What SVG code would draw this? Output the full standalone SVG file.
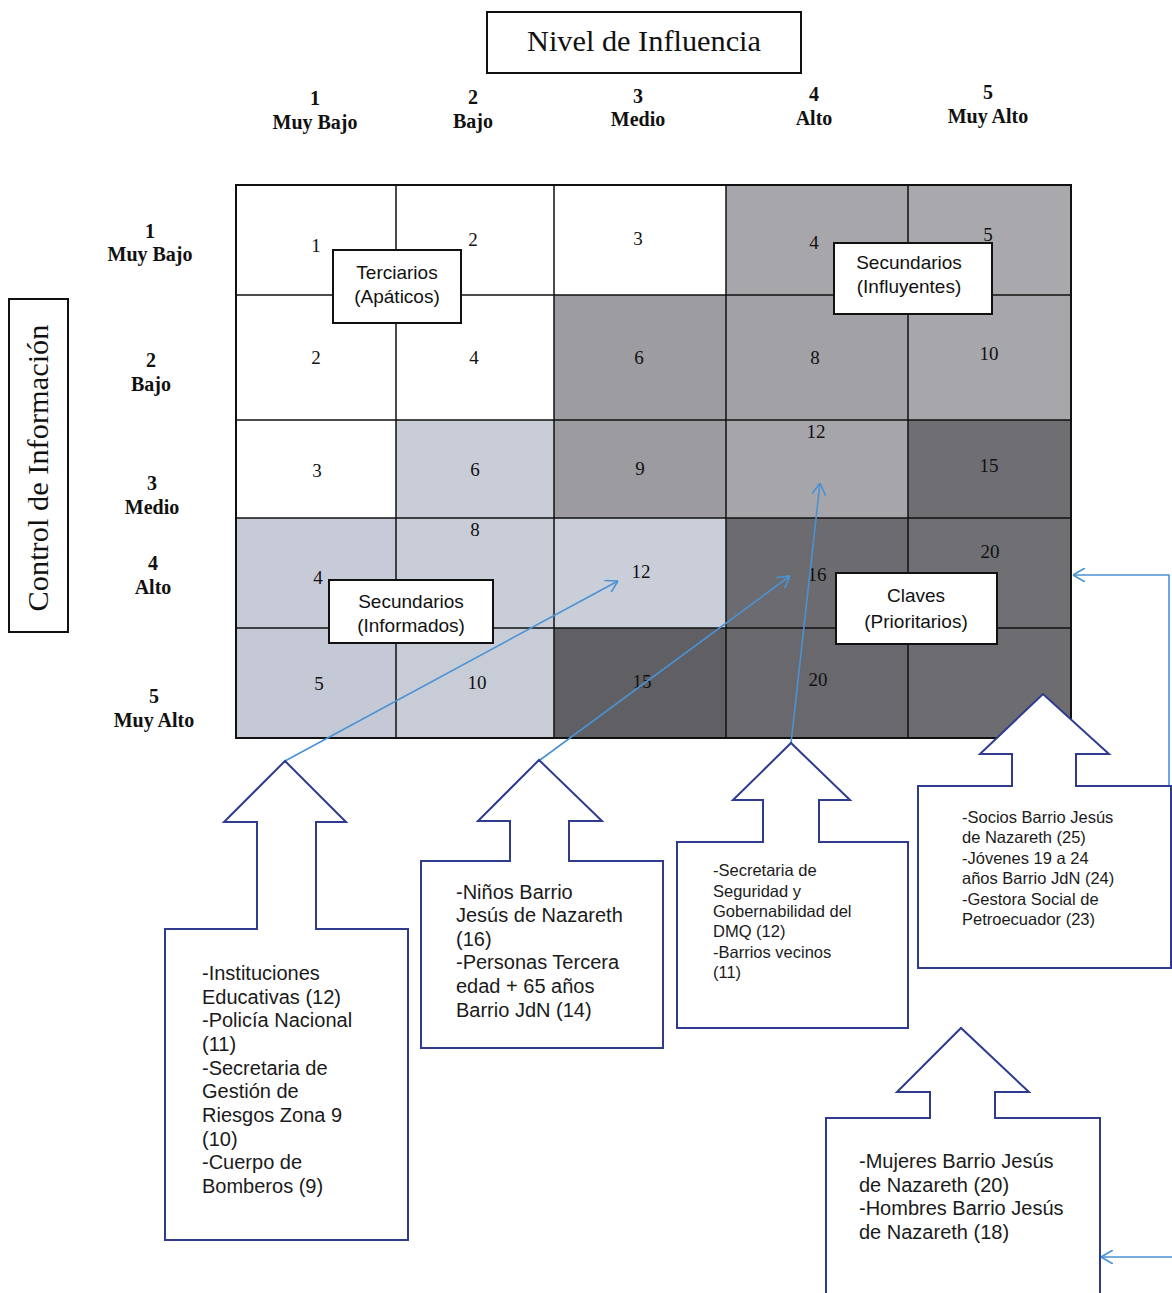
<svg xmlns="http://www.w3.org/2000/svg" width="1172" height="1293" viewBox="0 0 1172 1293">
<defs>
<style>
.hdr{font-family:"Liberation Serif",serif;font-weight:bold;font-size:20px;text-anchor:middle;fill:#111}
.num{font-family:"Liberation Serif",serif;font-size:19px;text-anchor:middle;fill:#111}
.lbl{font-family:"Liberation Sans",Arial,sans-serif;font-size:19px;text-anchor:middle;fill:#111}
.lbox{fill:#fff;stroke:#111;stroke-width:2}
.grid line{stroke:#111;stroke-width:1.5}
.abox{fill:#fff;stroke:#2e3b8f;stroke-width:2}
.t20{font-family:"Liberation Sans",Arial,sans-serif;font-size:20px;fill:#1a1a1a}
.t16{font-family:"Liberation Sans",Arial,sans-serif;font-size:16.5px;fill:#1a1a1a}
.conn{stroke:#4a92d4;stroke-width:1.6;fill:none}
</style>
<marker id="ah" viewBox="0 0 12 14" refX="12" refY="7" markerWidth="12" markerHeight="14" markerUnits="userSpaceOnUse" orient="auto">
<path d="M0,0 L12,7 L0,14" fill="none" stroke="#4a92d4" stroke-width="1.6"/>
</marker>
</defs>
<rect width="1172" height="1293" fill="#fff"/>

<g id="title">
<rect x="487" y="12" width="314" height="61" class="lbox"/>
<text x="644" y="51" font-family="Liberation Serif,serif" font-size="30" text-anchor="middle" fill="#111" textLength="234" lengthAdjust="spacingAndGlyphs">Nivel de Influencia</text>
</g>
<g id="yaxis-title">
<rect x="9" y="299" width="59" height="333" class="lbox"/>
<text transform="translate(48,468) rotate(-90)" font-family="Liberation Serif,serif" font-size="30" text-anchor="middle" fill="#111" textLength="287" lengthAdjust="spacingAndGlyphs">Control de Información</text>
</g>

<g id="col-headers">
<text class="hdr" x="315" y="105">1</text><text class="hdr" x="315" y="129">Muy Bajo</text>
<text class="hdr" x="473" y="104">2</text><text class="hdr" x="473" y="128">Bajo</text>
<text class="hdr" x="638" y="103">3</text><text class="hdr" x="638" y="126">Medio</text>
<text class="hdr" x="814" y="101">4</text><text class="hdr" x="814" y="125">Alto</text>
<text class="hdr" x="988" y="99">5</text><text class="hdr" x="988" y="123">Muy Alto</text>
</g>
<g id="row-headers">
<text class="hdr" x="150" y="238">1</text><text class="hdr" x="150" y="261">Muy Bajo</text>
<text class="hdr" x="151" y="367">2</text><text class="hdr" x="151" y="391">Bajo</text>
<text class="hdr" x="152" y="490">3</text><text class="hdr" x="152" y="514">Medio</text>
<text class="hdr" x="153" y="570">4</text><text class="hdr" x="153" y="594">Alto</text>
<text class="hdr" x="154" y="703">5</text><text class="hdr" x="154" y="727">Muy Alto</text>
</g>

<g id="matrix" class="grid">
<rect x="236" y="185" width="160" height="110" fill="#ffffff"/>
<rect x="396" y="185" width="158" height="110" fill="#ffffff"/>
<rect x="554" y="185" width="172" height="110" fill="#ffffff"/>
<rect x="726" y="185" width="182" height="110" fill="#a7a7ab"/>
<rect x="908" y="185" width="163" height="110" fill="#a9a9ad"/>
<rect x="236" y="295" width="160" height="125" fill="#ffffff"/>
<rect x="396" y="295" width="158" height="125" fill="#ffffff"/>
<rect x="554" y="295" width="172" height="125" fill="#9c9ca1"/>
<rect x="726" y="295" width="182" height="125" fill="#a1a1a6"/>
<rect x="908" y="295" width="163" height="125" fill="#a7a7ab"/>
<rect x="236" y="420" width="160" height="98" fill="#ffffff"/>
<rect x="396" y="420" width="158" height="98" fill="#c9cdd7"/>
<rect x="554" y="420" width="172" height="98" fill="#9b9ba0"/>
<rect x="726" y="420" width="182" height="98" fill="#a5a5aa"/>
<rect x="908" y="420" width="163" height="98" fill="#6f6f73"/>
<rect x="236" y="518" width="160" height="110" fill="#c6cbd7"/>
<rect x="396" y="518" width="158" height="110" fill="#c8cdd8"/>
<rect x="554" y="518" width="172" height="110" fill="#caced9"/>
<rect x="726" y="518" width="182" height="110" fill="#6c6c70"/>
<rect x="908" y="518" width="163" height="110" fill="#707074"/>
<rect x="236" y="628" width="160" height="110" fill="#c4c9d5"/>
<rect x="396" y="628" width="158" height="110" fill="#c7ccd7"/>
<rect x="554" y="628" width="172" height="110" fill="#606064"/>
<rect x="726" y="628" width="182" height="110" fill="#69696d"/>
<rect x="908" y="628" width="163" height="110" fill="#6d6d71"/>
<line x1="396" y1="185" x2="396" y2="738"/>
<line x1="554" y1="185" x2="554" y2="738"/>
<line x1="726" y1="185" x2="726" y2="738"/>
<line x1="908" y1="185" x2="908" y2="738"/>
<line x1="236" y1="295" x2="1071" y2="295"/>
<line x1="236" y1="420" x2="1071" y2="420"/>
<line x1="236" y1="518" x2="1071" y2="518"/>
<line x1="236" y1="628" x2="1071" y2="628"/>
<rect x="236" y="185" width="835" height="553" fill="none" stroke="#111" stroke-width="2"/>
</g>

<g id="cell-values">
<text class="num" x="316" y="252">1</text>
<text class="num" x="473" y="246">2</text>
<text class="num" x="638" y="245">3</text>
<text class="num" x="814" y="249">4</text>
<text class="num" x="988" y="241">5</text>
<text class="num" x="316" y="364">2</text>
<text class="num" x="474" y="364">4</text>
<text class="num" x="639" y="364">6</text>
<text class="num" x="815" y="364">8</text>
<text class="num" x="989" y="360">10</text>
<text class="num" x="317" y="477">3</text>
<text class="num" x="475" y="476">6</text>
<text class="num" x="640" y="475">9</text>
<text class="num" x="816" y="438">12</text>
<text class="num" x="989" y="472">15</text>
<text class="num" x="318" y="584">4</text>
<text class="num" x="475" y="536">8</text>
<text class="num" x="641" y="578">12</text>
<text class="num" x="817" y="581">16</text>
<text class="num" x="990" y="558">20</text>
<text class="num" x="319" y="690">5</text>
<text class="num" x="477" y="689">10</text>
<text class="num" x="642" y="688">15</text>
<text class="num" x="818" y="686">20</text>
</g>

<g id="quadrant-terciarios">
<rect x="333" y="250" width="128" height="73" class="lbox"/>
<text class="lbl" x="397" y="279">Terciarios</text>
<text class="lbl" x="397" y="303">(Apáticos)</text>
</g>
<g id="quadrant-influyentes">
<rect x="834" y="243" width="158" height="71" class="lbox"/>
<text class="lbl" x="909" y="269">Secundarios</text>
<text class="lbl" x="909" y="293">(Influyentes)</text>
</g>
<g id="quadrant-informados">
<rect x="329" y="580" width="164" height="63" class="lbox"/>
<text class="lbl" x="411" y="608">Secundarios</text>
<text class="lbl" x="411" y="632">(Informados)</text>
</g>
<g id="quadrant-claves">
<rect x="836" y="573" width="161" height="71" class="lbox"/>
<text class="lbl" x="916" y="602">Claves</text>
<text class="lbl" x="916" y="628">(Prioritarios)</text>
</g>

<g id="connectors">
<line class="conn" x1="285" y1="761" x2="618" y2="581" marker-end="url(#ah)"/>
<line class="conn" x1="540" y1="760" x2="790" y2="576" marker-end="url(#ah)"/>
<line class="conn" x1="791" y1="743" x2="820" y2="483" marker-end="url(#ah)"/>
<polyline class="conn" points="1169,786 1169,575 1073,575" marker-end="url(#ah)"/>
<line class="conn" x1="1172" y1="1257" x2="1101" y2="1257" marker-end="url(#ah)"/>
</g>

<g id="box-instituciones">
<path class="abox" d="M165,929 H257 V822 H224 L285,761 L346,822 H316 V929 H408 V1240 H165 Z"/>
<text class="t20" x="202" y="980">-Instituciones</text>
<text class="t20" x="202" y="1004">Educativas (12)</text>
<text class="t20" x="202" y="1027">-Policía Nacional</text>
<text class="t20" x="202" y="1051">(11)</text>
<text class="t20" x="202" y="1075">-Secretaria de</text>
<text class="t20" x="202" y="1098">Gestión de</text>
<text class="t20" x="202" y="1122">Riesgos Zona 9</text>
<text class="t20" x="202" y="1146">(10)</text>
<text class="t20" x="202" y="1169">-Cuerpo de</text>
<text class="t20" x="202" y="1193">Bomberos (9)</text>
</g>
<g id="box-ninos">
<path class="abox" d="M421,861 H510 V821 H478 L539,760 L602,821 H569 V861 H663 V1048 H421 Z"/>
<text class="t20" x="456" y="899">-Niños Barrio</text>
<text class="t20" x="456" y="922">Jesús de Nazareth</text>
<text class="t20" x="456" y="946">(16)</text>
<text class="t20" x="456" y="969">-Personas Tercera</text>
<text class="t20" x="456" y="993">edad + 65 años</text>
<text class="t20" x="456" y="1017">Barrio JdN (14)</text>
</g>
<g id="box-secretaria">
<path class="abox" d="M677,842 H763 V800 H733 L791,743 L850,800 H819 V842 H908 V1028 H677 Z"/>
<text class="t16" x="713" y="876">-Secretaria de</text>
<text class="t16" x="713" y="897">Seguridad y</text>
<text class="t16" x="713" y="917">Gobernabilidad del</text>
<text class="t16" x="713" y="937">DMQ (12)</text>
<text class="t16" x="713" y="958">-Barrios vecinos</text>
<text class="t16" x="713" y="978">(11)</text>
</g>
<g id="box-socios">
<path class="abox" d="M918,786 H1012 V754 H980 L1043,694 L1109,754 H1076 V786 H1171 V968 H918 Z"/>
<text class="t16" x="962" y="823">-Socios Barrio Jesús</text>
<text class="t16" x="962" y="843">de Nazareth (25)</text>
<text class="t16" x="962" y="864">-Jóvenes 19 a 24</text>
<text class="t16" x="962" y="884">años Barrio JdN (24)</text>
<text class="t16" x="962" y="905">-Gestora Social de</text>
<text class="t16" x="962" y="925">Petroecuador (23)</text>
</g>
<g id="box-mujeres">
<path class="abox" d="M826,1118 H930 V1092 H897 L961,1028 L1029,1092 H995 V1118 H1100 V1300 H826 Z"/>
<text class="t20" x="859" y="1168">-Mujeres Barrio Jesús</text>
<text class="t20" x="859" y="1192">de Nazareth (20)</text>
<text class="t20" x="859" y="1215">-Hombres Barrio Jesús</text>
<text class="t20" x="859" y="1239">de Nazareth (18)</text>
</g>
</svg>
